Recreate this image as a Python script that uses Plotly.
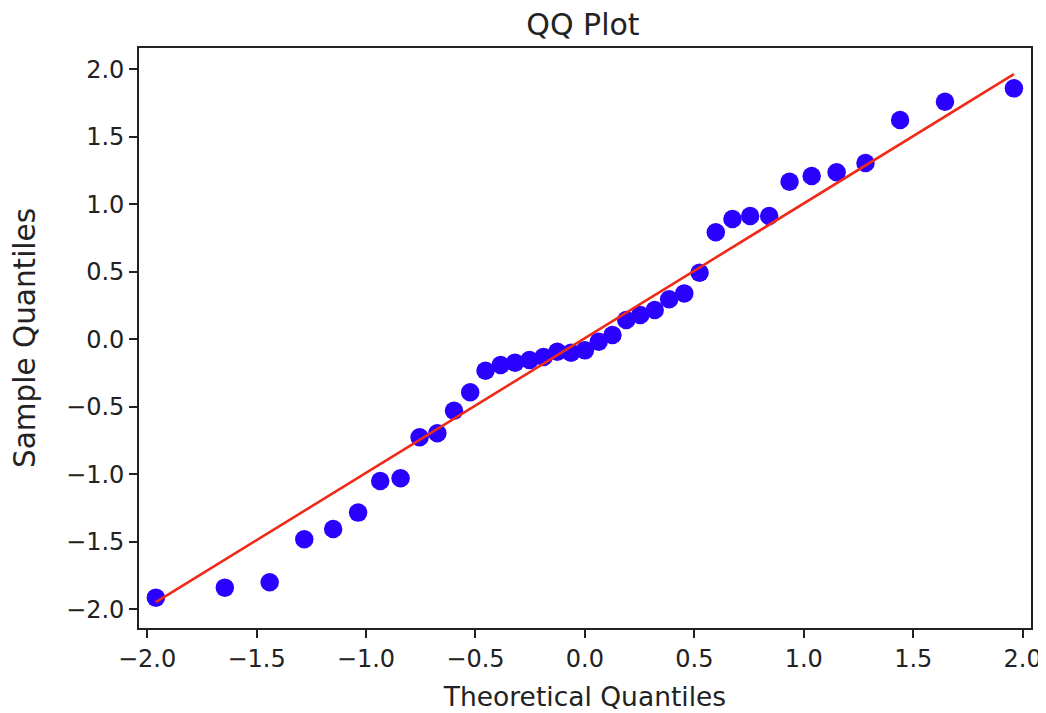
import plotly.graph_objects as go

# Theoretical quantiles (x) and sample quantiles (y)
theoretical = [-1.96, -1.645, -1.44, -1.282, -1.15, -1.036, -0.935, -0.842, -0.755, -0.674,
               -0.598, -0.524, -0.454, -0.385, -0.319, -0.253, -0.189, -0.126, -0.063, 0.0,
               0.063, 0.126, 0.189, 0.253, 0.319, 0.385, 0.454, 0.524, 0.598, 0.674,
               0.755, 0.842, 0.935, 1.036, 1.15, 1.282, 1.44, 1.645, 1.96]
sample = [-1.914, -1.840, -1.800, -1.481, -1.405, -1.284, -1.050, -1.030, -0.726, -0.696,
          -0.529, -0.393, -0.233, -0.190, -0.173, -0.153, -0.131, -0.092, -0.100, -0.082,
          -0.018, 0.032, 0.143, 0.180, 0.217, 0.296, 0.340, 0.493, 0.793, 0.891,
          0.913, 0.913, 1.167, 1.210, 1.237, 1.306, 1.624, 1.760, 1.859]

# Reference line end points
line_x = [-1.96, 1.96]
line_y = [-1.948, 1.965]

tick_vals = [-2.0, -1.5, -1.0, -0.5, 0.0, 0.5, 1.0, 1.5, 2.0]
tick_text = ["\u22122.0", "\u22121.5", "\u22121.0", "\u22120.5", "0.0", "0.5", "1.0", "1.5", "2.0"]

FONT = "DejaVu Sans"

fig = go.Figure()
fig.add_trace(go.Scatter(
    x=theoretical, y=sample, mode="markers",
    marker=dict(color="#2b00ff", size=18.5, line=dict(width=0)),
    showlegend=False, hoverinfo="skip",
))
fig.add_trace(go.Scatter(
    x=line_x, y=line_y, mode="lines",
    line=dict(color="#f02a18", width=2.6),
    showlegend=False, hoverinfo="skip",
))

axis_common = dict(
    showgrid=False, zeroline=False, automargin=False,
    showline=True, linecolor="#222222", linewidth=1.6, mirror=True,
    ticks="outside", ticklen=8, tickwidth=1.6, tickcolor="#222222",
    tickvals=tick_vals, ticktext=tick_text,
    tickfont=dict(family=FONT, size=24, color="#222222"),
)

fig.update_layout(
    width=1046, height=713,
    margin=dict(l=131, r=23, t=40, b=93),
    paper_bgcolor="white", plot_bgcolor="white",
    title=dict(text="QQ Plot", x=0.5497, xanchor="center", y=0.9775, yanchor="middle",
               font=dict(family=FONT, size=30, color="#222222")),
    xaxis=dict(range=[-2.037, 2.038],
               title=dict(text="Theoretical Quantiles", standoff=16,
                          font=dict(family=FONT, size=26.5, color="#222222")),
               **axis_common),
    yaxis=dict(range=[-2.139, 2.158],
               title=dict(text="Sample Quantiles", standoff=33,
                          font=dict(family=FONT, size=29.5, color="#222222")),
               **axis_common),
)

fig.write_html("out.html")
